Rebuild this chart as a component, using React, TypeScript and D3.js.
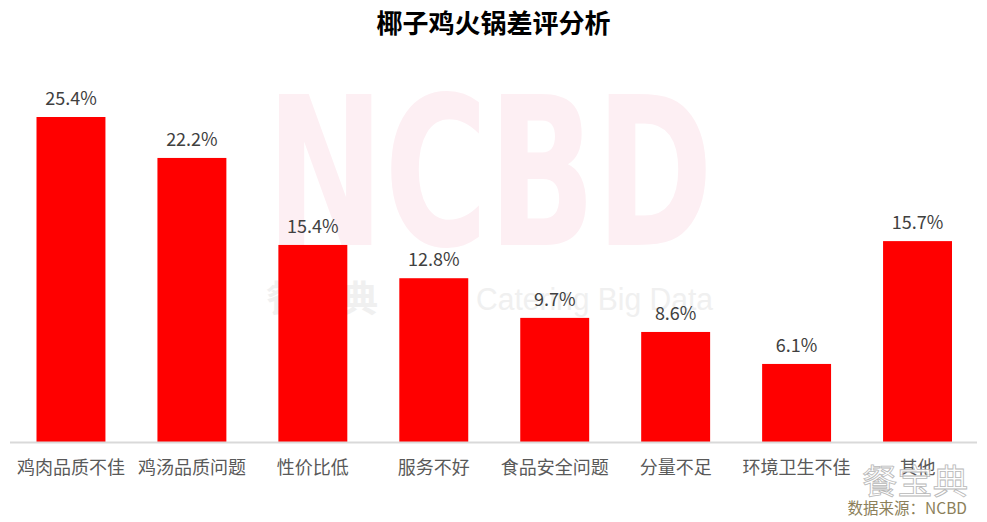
import React from "react";
import * as d3 from "d3";

const categories = ["鸡肉品质不佳", "鸡汤品质问题", "性价比低", "服务不好", "食品安全问题", "分量不足", "环境卫生不佳", "其他"];
const values = [25.4, 22.2, 15.4, 12.8, 9.7, 8.6, 6.1, 15.7];
const title = "椰子鸡火锅差评分析";

const W = 987;
const H = 522;
const baseY = 442;

export default function App() {
  const x = d3.scaleBand<string>().domain(categories).range([10.5, 978]).paddingInner(0.43).paddingOuter(0.215);
  const y = d3.scaleLinear().domain([0, 25.4]).range([baseY, 117]);
  const font = "'Microsoft YaHei', 'Noto Sans CJK SC', sans-serif";
  return (
    <svg width={W} height={H} style={{ position: "absolute", left: 0, top: 0, background: "#fff" }}>
      <rect width={W} height={H} fill="#fff" />
      {/* watermark */}
      <text x={266} y={245} fill="#fdeff3" fontFamily="'DejaVu Sans', sans-serif" fontWeight="bold" fontSize={207} textLength={447} lengthAdjust="spacingAndGlyphs">NCBD</text>
      <text x={266} y={312} fill="#f0f0f0" fontFamily={font} fontWeight="bold" fontSize={36} textLength={112} lengthAdjust="spacingAndGlyphs">餐宝典</text>
      <text x={476} y={310} fill="#f0f0f0" fontFamily="'Liberation Sans', Arial, sans-serif" fontSize={31} textLength={237} lengthAdjust="spacingAndGlyphs">Catering Big Data</text>
      <text x={W / 2} y={33} textAnchor="middle" fontFamily={font} fontWeight="bold" fontSize={26} fill="#000">{title}</text>
      {categories.map((c, i) => (
        <g key={c}>
          <rect x={x(c)} y={y(values[i])} width={x.bandwidth()} height={baseY - y(values[i])} fill="#ff0000" />
          <text x={(x(c) as number) + x.bandwidth() / 2} y={y(values[i]) - 12} textAnchor="middle" fontFamily={font} fontSize={18} fill="#404040">{values[i].toFixed(1)}%</text>
          <text x={(x(c) as number) + x.bandwidth() / 2} y={474} textAnchor="middle" fontFamily={font} fontSize={18} fill="#595959">{c}</text>
        </g>
      ))}
      <line x1={10} x2={977} y1={baseY + 0.5} y2={baseY + 0.5} stroke="#d9d9d9" strokeWidth={2} />
      {/* logo */}
      <text x={862} y={494} fill="#ffffff" stroke="#b0b0b0" strokeWidth={0.8} fontFamily={font} fontSize={34} textLength={106} lengthAdjust="spacingAndGlyphs" opacity={0.9}>餐宝典</text>
      <text x={967} y={514} textAnchor="end" fill="#8c7f5a" fontFamily={font} fontSize={15.5}>数据来源：NCBD</text>
    </svg>
  );
}
